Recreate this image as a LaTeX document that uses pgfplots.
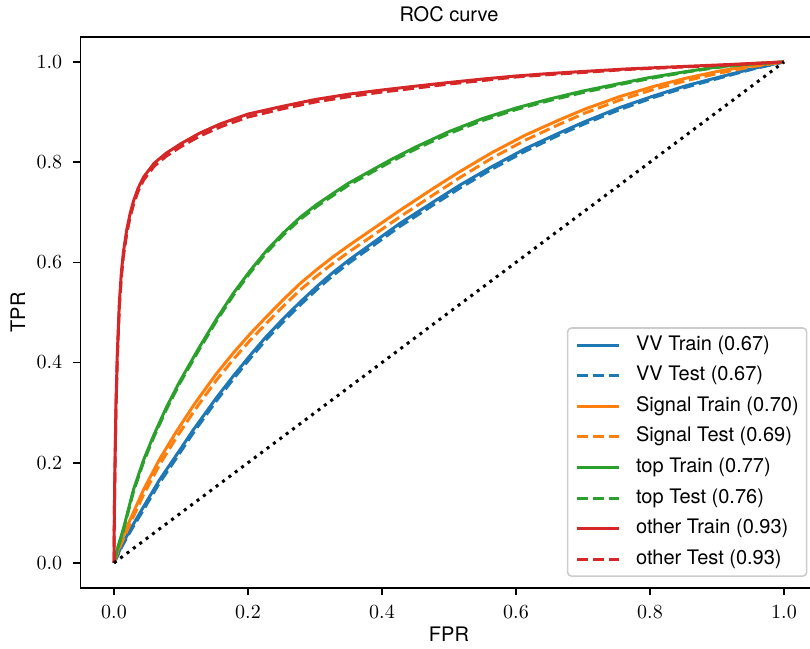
\documentclass[border=0pt]{standalone}
\usepackage{fontspec}
\newfontfamily\hv{TeX Gyre Heros}
\usepackage{pgfplots}
\pgfplotsset{compat=1.18}
\definecolor{c0}{HTML}{1F77B4}
\definecolor{c1}{HTML}{FF7F0E}
\definecolor{c2}{HTML}{2CA02C}
\definecolor{c3}{HTML}{D62728}
\tikzset{dsh/.style={dash pattern=on 5.55pt off 2.4pt}}
\begin{document}
\begin{tikzpicture}
\begin{axis}[
  at={(0,0)}, anchor=south west,
  scale only axis, width=368.5pt, height=275.55pt,
  xmin=-0.05, xmax=1.05, ymin=-0.05, ymax=1.05,
  axis line style={line width=0.8pt},
  tick align=outside, tick pos=left,
  major tick length=3.5pt,
  every tick/.style={line width=0.8pt, black},
  xtick={0,0.2,0.4,0.6,0.8,1},
  xticklabels={$0.0$,$0.2$,$0.4$,$0.6$,$0.8$,$1.0$},
  ytick={0,0.2,0.4,0.6,0.8,1},
  yticklabels={$0.0$,$0.2$,$0.4$,$0.6$,$0.8$,$1.0$},
  xticklabel style={anchor=north, inner sep=0pt, yshift=-5pt},
  yticklabel style={anchor=east, inner sep=0pt, xshift=-5.5pt},
  title={\hv ROC curve},
  every axis title/.style={at={(axis description cs:0.5,1)}, anchor=base, inner sep=0pt, yshift=7.5pt},
  xlabel={\hv FPR},
  ylabel={\hv TPR},
  every axis x label/.style={at={(axis description cs:0.5,0)}, anchor=north, inner sep=0pt, yshift=-19.5pt},
  every axis y label/.style={at={(axis description cs:0,0.5)}, xshift=-27.5pt, rotate=90, anchor=south, inner sep=0pt},
  legend cell align=left,
  legend style={at={(axis description cs:1,0)}, anchor=south east, xshift=-5pt, yshift=5.5pt,
    draw=black!20, line width=0.8pt, rounded corners=2pt, fill=white, fill opacity=0.8, text opacity=1,
    inner sep=4pt, row sep=6.3pt, font=\hv,
    nodes={inner sep=0pt, text height=7pt, text depth=2pt, anchor=west}},
  legend image code/.code={\draw[#1, line width=1.5pt] (0pt,0pt) -- (21pt,0pt); \path[draw=none] (0pt,0pt) -- (29.5pt,0pt);},
  every axis plot/.append style={line width=1.5pt},
]
\addplot[c0] table {
0 0
0.005 0.015
0.012 0.036
0.024 0.066
0.044 0.112
0.068 0.166
0.093 0.215
0.118 0.265
0.153 0.330
0.178 0.373
0.203 0.414
0.228 0.453
0.253 0.488
0.278 0.521
0.303 0.552
0.327 0.580
0.352 0.606
0.377 0.630
0.427 0.678
0.477 0.721
0.516 0.754
0.564 0.791
0.614 0.827
0.664 0.858
0.703 0.881
0.755 0.909
0.805 0.932
0.855 0.953
0.904 0.970
0.954 0.987
1 1
};
\addlegendentry{VV Train (0.67)}
\addplot[c0, dsh] table {
0 0
0.005 0.013
0.012 0.033
0.024 0.062
0.044 0.106
0.068 0.160
0.093 0.209
0.118 0.259
0.153 0.324
0.178 0.367
0.203 0.408
0.228 0.447
0.253 0.482
0.278 0.515
0.303 0.546
0.327 0.574
0.352 0.600
0.377 0.624
0.427 0.672
0.477 0.715
0.516 0.748
0.564 0.786
0.614 0.822
0.664 0.854
0.703 0.877
0.755 0.905
0.805 0.929
0.855 0.950
0.904 0.968
0.954 0.986
1 1
};
\addlegendentry{VV Test (0.67)}
\addplot[c1] table {
0 0
0.005 0.022
0.012 0.048
0.024 0.086
0.044 0.146
0.068 0.207
0.093 0.262
0.118 0.313
0.128 0.332
0.153 0.378
0.178 0.419
0.203 0.457
0.228 0.492
0.253 0.526
0.278 0.558
0.303 0.586
0.327 0.611
0.352 0.635
0.377 0.658
0.427 0.704
0.477 0.748
0.516 0.781
0.564 0.819
0.614 0.854
0.664 0.884
0.703 0.906
0.755 0.931
0.805 0.951
0.855 0.968
0.904 0.982
0.954 0.993
1 1
};
\addlegendentry{Signal Train (0.70)}
\addplot[c1, dsh] table {
0 0
0.005 0.019
0.012 0.042
0.024 0.078
0.044 0.136
0.068 0.196
0.093 0.250
0.118 0.300
0.128 0.319
0.153 0.365
0.178 0.406
0.203 0.444
0.228 0.479
0.253 0.513
0.278 0.545
0.303 0.573
0.327 0.598
0.352 0.622
0.377 0.645
0.427 0.691
0.477 0.735
0.516 0.769
0.564 0.808
0.614 0.844
0.664 0.875
0.703 0.898
0.755 0.924
0.805 0.945
0.855 0.963
0.904 0.978
0.954 0.991
1 1
};
\addlegendentry{Signal Test (0.69)}
\addplot[c2] table {
0 0
0.005 0.028
0.014 0.068
0.029 0.146
0.044 0.205
0.059 0.254
0.078 0.310
0.098 0.362
0.128 0.432
0.153 0.487
0.178 0.538
0.203 0.583
0.228 0.624
0.253 0.659
0.278 0.690
0.303 0.716
0.350 0.758
0.412 0.804
0.450 0.830
0.500 0.861
0.550 0.887
0.600 0.908
0.650 0.926
0.700 0.942
0.755 0.957
0.800 0.969
0.855 0.981
0.900 0.990
0.950 0.996
1 1
};
\addlegendentry{top Train (0.77)}
\addplot[c2, dsh] table {
0 0
0.005 0.026
0.014 0.065
0.029 0.142
0.044 0.201
0.059 0.250
0.078 0.306
0.098 0.358
0.128 0.428
0.153 0.483
0.178 0.534
0.203 0.579
0.228 0.620
0.253 0.655
0.278 0.686
0.303 0.712
0.350 0.754
0.412 0.800
0.450 0.826
0.500 0.857
0.550 0.883
0.600 0.905
0.650 0.923
0.700 0.939
0.755 0.955
0.800 0.967
0.855 0.980
0.900 0.989
0.950 0.996
1 1
};
\addlegendentry{top Test (0.76)}
\addplot[c3] table {
0 0
0.0005 0.10
0.0015 0.20
0.003 0.32
0.005 0.42
0.008 0.52
0.011 0.58
0.014 0.62
0.019 0.665
0.024 0.697
0.029 0.722
0.036 0.748
0.044 0.770
0.060 0.798
0.078 0.818
0.100 0.837
0.128 0.858
0.160 0.877
0.200 0.896
0.250 0.911
0.300 0.925
0.352 0.936
0.400 0.944
0.452 0.952
0.500 0.959
0.551 0.966
0.600 0.972
0.651 0.977
0.700 0.981
0.765 0.986
0.850 0.991
0.920 0.995
1 1
};
\addlegendentry{other Train (0.93)}
\addplot[c3, dsh] table {
0 0
0.0005 0.09
0.0015 0.19
0.003 0.31
0.005 0.41
0.008 0.51
0.011 0.57
0.014 0.612
0.019 0.657
0.024 0.690
0.029 0.715
0.036 0.742
0.044 0.764
0.060 0.792
0.078 0.812
0.100 0.831
0.128 0.852
0.160 0.871
0.200 0.890
0.250 0.906
0.300 0.920
0.352 0.931
0.400 0.940
0.452 0.948
0.500 0.956
0.551 0.963
0.600 0.970
0.651 0.975
0.700 0.979
0.765 0.985
0.850 0.990
0.920 0.994
1 1
};
\addlegendentry{other Test (0.93)}
\addplot[black, line width=1.5pt, dash pattern=on 1.5pt off 2.475pt, forget plot] table {
0 0
1 1
};
\end{axis}
\pgfresetboundingbox
\path[use as bounding box] (-40.25pt,-30.5pt) rectangle (364.75pt,294pt);
\end{tikzpicture}
\end{document}
